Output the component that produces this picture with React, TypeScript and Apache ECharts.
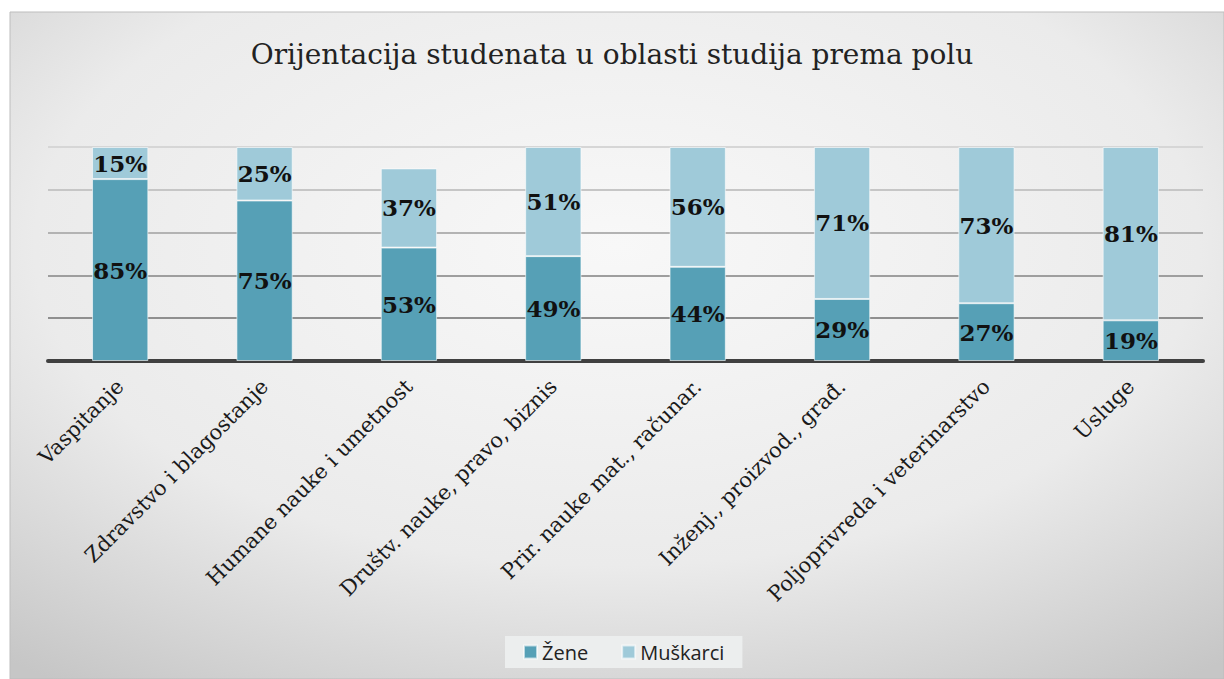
import React, { useEffect, useRef } from "react";
import * as echarts from "echarts";

const categories = [
  "Vaspitanje",
  "Zdravstvo i blagostanje",
  "Humane nauke i umetnost",
  "Društv. nauke, pravo, biznis",
  "Prir. nauke mat., računar.",
  "Inženj., proizvod., građ.",
  "Poljoprivreda i veterinarstvo",
  "Usluge",
];
const zene = [85, 75, 53, 49, 44, 29, 27, 19];
const muskarci = [15, 25, 37, 51, 56, 71, 73, 81];
const seriesNames = ["Žene", "Muškarci"];
const titleText = "Orijentacija studenata u oblasti studija prema polu";

export default function App() {
  const ref = useRef<HTMLDivElement>(null);
  useEffect(() => {
    if (!ref.current) return;
    const chart = echarts.init(ref.current, null, { renderer: "svg" });
    const labelStyle = {
      show: true,
      position: "inside",
      formatter: "{c}%",
      fontFamily: "DejaVu Serif",
      fontWeight: "bold",
      fontSize: 23,
      color: "#111",
    };
    chart.setOption({
      animation: false,
      backgroundColor: "#ffffff",
      graphic: [
        {
          type: "rect",
          z: -10,
          silent: true,
          shape: { x: 10, y: 12, width: 1214, height: 667 },
          style: {
            fill: {
              type: "radial",
              x: 0.5,
              y: 0.35,
              r: 0.8,
              colorStops: [
                { offset: 0, color: "#f8f8f8" },
                { offset: 0.6, color: "#ebebeb" },
                { offset: 1, color: "#c6c6c6" },
              ],
            },
            stroke: "#bdbdbd",
            lineWidth: 1,
          },
        },
      ],
      title: {
        text: titleText,
        left: "center",
        top: 35,
        textStyle: {
          fontFamily: "DejaVu Serif",
          fontWeight: "normal",
          fontSize: 28,
          color: "#222",
        },
      },
      legend: {
        data: seriesNames,
        bottom: 11,
        left: 505,
        itemWidth: 13,
        itemHeight: 13,
        itemGap: 33,
        icon: "rect",
        backgroundColor: "#eceeee",
        padding: [6, 18, 6, 18],
        textStyle: { fontFamily: "Open Sans", fontSize: 20, color: "#222" },
      },
      grid: { left: 48, right: 21, top: 147, bottom: 318 },
      xAxis: {
        type: "category",
        data: categories,
        axisLine: { lineStyle: { color: "#404040", width: 4 } },
        axisTick: { show: false },
        axisLabel: {
          rotate: 45,
          interval: 0,
          margin: 22,
          fontFamily: "DejaVu Serif",
          fontSize: 21,
          color: "#1a1a1a",
        },
      },
      yAxis: {
        type: "value",
        min: 0,
        max: 100,
        interval: 20,
        axisLabel: { show: false },
        axisLine: { show: false },
        axisTick: { show: false },
        splitLine: {
          lineStyle: {
            width: 2,
            color: ["#888", "#8f8f8f", "#9e9e9e", "#b3b3b3", "#c6c6c6", "#d6d6d6"],
          },
        },
      },
      series: [
        {
          name: seriesNames[0],
          type: "bar",
          stack: "total",
          barWidth: "39%",
          data: zene,
          itemStyle: { color: "#56a0b6", borderColor: "rgba(255,255,255,0.6)", borderWidth: 1 },
          label: labelStyle,
        },
        {
          name: seriesNames[1],
          type: "bar",
          stack: "total",
          barWidth: "39%",
          data: muskarci,
          itemStyle: { color: "#9fcad9", borderColor: "rgba(255,255,255,0.6)", borderWidth: 1 },
          label: labelStyle,
        },
      ],
    });
    return () => chart.dispose();
  }, []);
  return (
    <div
      ref={ref}
      style={{ position: "absolute", left: 0, top: 0, width: 1224, height: 679 }}
    />
  );
}
